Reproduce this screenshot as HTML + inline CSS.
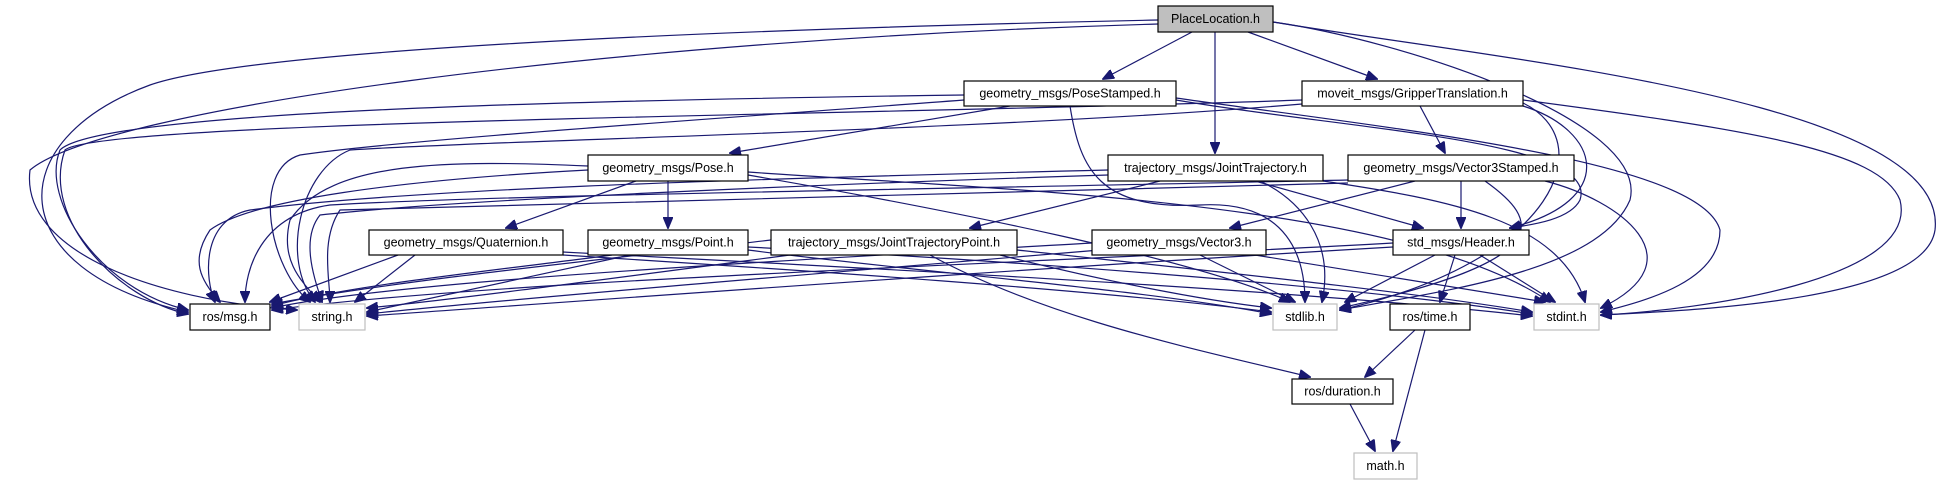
<!DOCTYPE html>
<html><head><meta charset="utf-8"><style>
html,body{margin:0;padding:0;background:#fff;}
svg{display:block;}
text{font-family:"Liberation Sans",sans-serif;font-size:12.5px;text-anchor:middle;dominant-baseline:central;fill:#000;}
.n{fill:#fff;stroke:#000;stroke-width:1.2;}
.g{fill:#fff;stroke:#bfbfbf;stroke-width:1.2;}
.e{fill:none;stroke:#191970;stroke-width:1.2;marker-end:url(#a);}
</style></head><body>
<svg width="1944" height="485" viewBox="0 0 1944 485">
<defs><marker id="a" markerWidth="12" markerHeight="10" refX="11" refY="5" orient="auto" markerUnits="userSpaceOnUse"><path d="M0,0 L12,5 L0,10 z" fill="#191970" stroke="#191970"/></marker></defs>
<g>
<path class="e" d="M1192,32 L1103,79"/>
<path class="e" d="M1215,32 L1215,153"/>
<path class="e" d="M1248,32 L1377,79"/>
<path class="e" d="M1158,20 C700,30 250,50 150,85 C0,140 0,270 188,312"/>
<path class="e" d="M1158,24 C600,40 100,110 30,170 C20,250 150,300 297,310"/>
<path class="e" d="M1273,22 C1400,40 1650,120 1630,200 C1600,270 1450,290 1340,310"/>
<path class="e" d="M1273,22 C1500,60 1950,100 1935,230 C1925,300 1700,310 1601,315"/>
<path class="e" d="M964,95 C600,100 100,110 60,150 C40,200 100,290 188,310"/>
<path class="e" d="M964,100 C700,120 400,140 300,155 C250,170 270,270 310,302"/>
<path class="e" d="M1010,106 L730,153"/>
<path class="e" d="M1070,106 C1080,170 1100,210 1200,205 C1290,200 1305,260 1305,302"/>
<path class="e" d="M1176,98 C1400,130 1700,160 1720,230 C1720,280 1650,300 1601,312"/>
<path class="e" d="M1176,100 C1350,130 1600,140 1580,200 C1570,220 1530,225 1510,228"/>
<path class="e" d="M1302,100 C900,115 100,120 65,150 C40,220 120,300 188,314"/>
<path class="e" d="M1302,104 C1000,130 500,140 350,150 C300,170 280,260 315,302"/>
<path class="e" d="M1420,106 L1445,153"/>
<path class="e" d="M1523,106 C1600,130 1620,200 1510,228"/>
<path class="e" d="M1523,103 C1600,140 1560,260 1340,310"/>
<path class="e" d="M1523,100 C1750,130 1880,150 1900,200 C1920,280 1700,310 1601,315"/>
<path class="e" d="M588,170 C400,180 250,200 210,230 C190,260 200,280 220,302"/>
<path class="e" d="M588,166 C450,160 330,160 290,220 C280,260 300,280 320,302"/>
<path class="e" d="M636,181 L506,228"/>
<path class="e" d="M668,181 L668,228"/>
<path class="e" d="M748,175 C950,210 1200,260 1290,302"/>
<path class="e" d="M748,172 C1000,190 1400,200 1550,302"/>
<path class="e" d="M1108,170 C700,180 400,190 250,210 C200,220 205,280 215,302"/>
<path class="e" d="M1108,175 C800,185 450,200 320,215 C300,240 315,280 322,302"/>
<path class="e" d="M1160,181 L970,228"/>
<path class="e" d="M1255,181 L1423,228"/>
<path class="e" d="M1260,181 C1300,200 1335,240 1322,302"/>
<path class="e" d="M1323,181 C1450,200 1560,220 1585,302"/>
<path class="e" d="M1415,181 L1230,228"/>
<path class="e" d="M1461,181 L1461,228"/>
<path class="e" d="M1485,181 C1540,220 1560,260 1340,308"/>
<path class="e" d="M1545,181 C1620,200 1700,260 1601,308"/>
<path class="e" d="M1348,180 C900,190 500,195 330,205 C260,215 245,270 245,302"/>
<path class="e" d="M1348,183 C900,195 500,205 340,210 C320,240 330,280 330,302"/>
<path class="e" d="M398,255 L270,302"/>
<path class="e" d="M415,255 L355,302"/>
<path class="e" d="M563,255 C800,270 1100,290 1271,312"/>
<path class="e" d="M563,252 C900,270 1300,290 1532,316"/>
<path class="e" d="M612,255 C500,270 350,285 272,306"/>
<path class="e" d="M630,255 L367,312"/>
<path class="e" d="M748,250 C900,270 1150,290 1271,314"/>
<path class="e" d="M748,247 C1000,260 1350,285 1532,314"/>
<path class="e" d="M771,240 C600,260 400,280 272,304"/>
<path class="e" d="M790,255 C600,280 450,300 367,308"/>
<path class="e" d="M930,255 C1050,320 1200,350 1310,377"/>
<path class="e" d="M1000,255 C1100,280 1200,300 1271,308"/>
<path class="e" d="M1017,250 C1200,270 1400,290 1532,312"/>
<path class="e" d="M1092,243 C800,260 400,280 272,308"/>
<path class="e" d="M1100,250 C800,275 500,300 367,314"/>
<path class="e" d="M1200,255 L1295,302"/>
<path class="e" d="M1255,255 L1545,302"/>
<path class="e" d="M1393,243 C1000,265 500,280 272,310"/>
<path class="e" d="M1393,247 C1000,270 600,300 367,316"/>
<path class="e" d="M1435,255 L1345,302"/>
<path class="e" d="M1480,255 L1555,302"/>
<path class="e" d="M1455,255 L1440,302"/>
<path class="e" d="M1415,330 L1365,377"/>
<path class="e" d="M1425,330 L1393,451"/>
<path class="e" d="M1350,404 L1375,451"/>
</g>
<rect x="1158" y="6" width="115" height="26" fill="#bfbfbf" stroke="#000" stroke-width="1.2"/><text x="1215.5" y="19">PlaceLocation.h</text>
<rect class="n" x="964" y="81" width="212" height="25"/><text x="1070" y="93.5">geometry_msgs/PoseStamped.h</text>
<rect class="n" x="1302" y="81" width="221" height="25"/><text x="1412.5" y="93.5">moveit_msgs/GripperTranslation.h</text>
<rect class="n" x="588" y="155" width="160" height="26"/><text x="668" y="168">geometry_msgs/Pose.h</text>
<rect class="n" x="1108" y="155" width="215" height="26"/><text x="1215.5" y="168">trajectory_msgs/JointTrajectory.h</text>
<rect class="n" x="1348" y="155" width="226" height="26"/><text x="1461" y="168">geometry_msgs/Vector3Stamped.h</text>
<rect class="n" x="369" y="230" width="194" height="25"/><text x="466" y="242.5">geometry_msgs/Quaternion.h</text>
<rect class="n" x="588" y="230" width="160" height="25"/><text x="668" y="242.5">geometry_msgs/Point.h</text>
<rect class="n" x="771" y="230" width="246" height="25"/><text x="894" y="242.5">trajectory_msgs/JointTrajectoryPoint.h</text>
<rect class="n" x="1092" y="230" width="174" height="25"/><text x="1179" y="242.5">geometry_msgs/Vector3.h</text>
<rect class="n" x="1393" y="230" width="136" height="25"/><text x="1461" y="242.5">std_msgs/Header.h</text>
<rect class="n" x="190" y="304" width="80" height="26"/><text x="230" y="317">ros/msg.h</text>
<rect class="g" x="299" y="304" width="66" height="26"/><text x="332" y="317">string.h</text>
<rect class="g" x="1273" y="304" width="64" height="26"/><text x="1305" y="317">stdlib.h</text>
<rect class="n" x="1390" y="304" width="80" height="26"/><text x="1430" y="317">ros/time.h</text>
<rect class="g" x="1534" y="304" width="65" height="26"/><text x="1566.5" y="317">stdint.h</text>
<rect class="n" x="1292" y="379" width="101" height="25"/><text x="1342.5" y="391.5">ros/duration.h</text>
<rect class="g" x="1354" y="453" width="63" height="26"/><text x="1385.5" y="466">math.h</text>
</svg>
</body></html>
